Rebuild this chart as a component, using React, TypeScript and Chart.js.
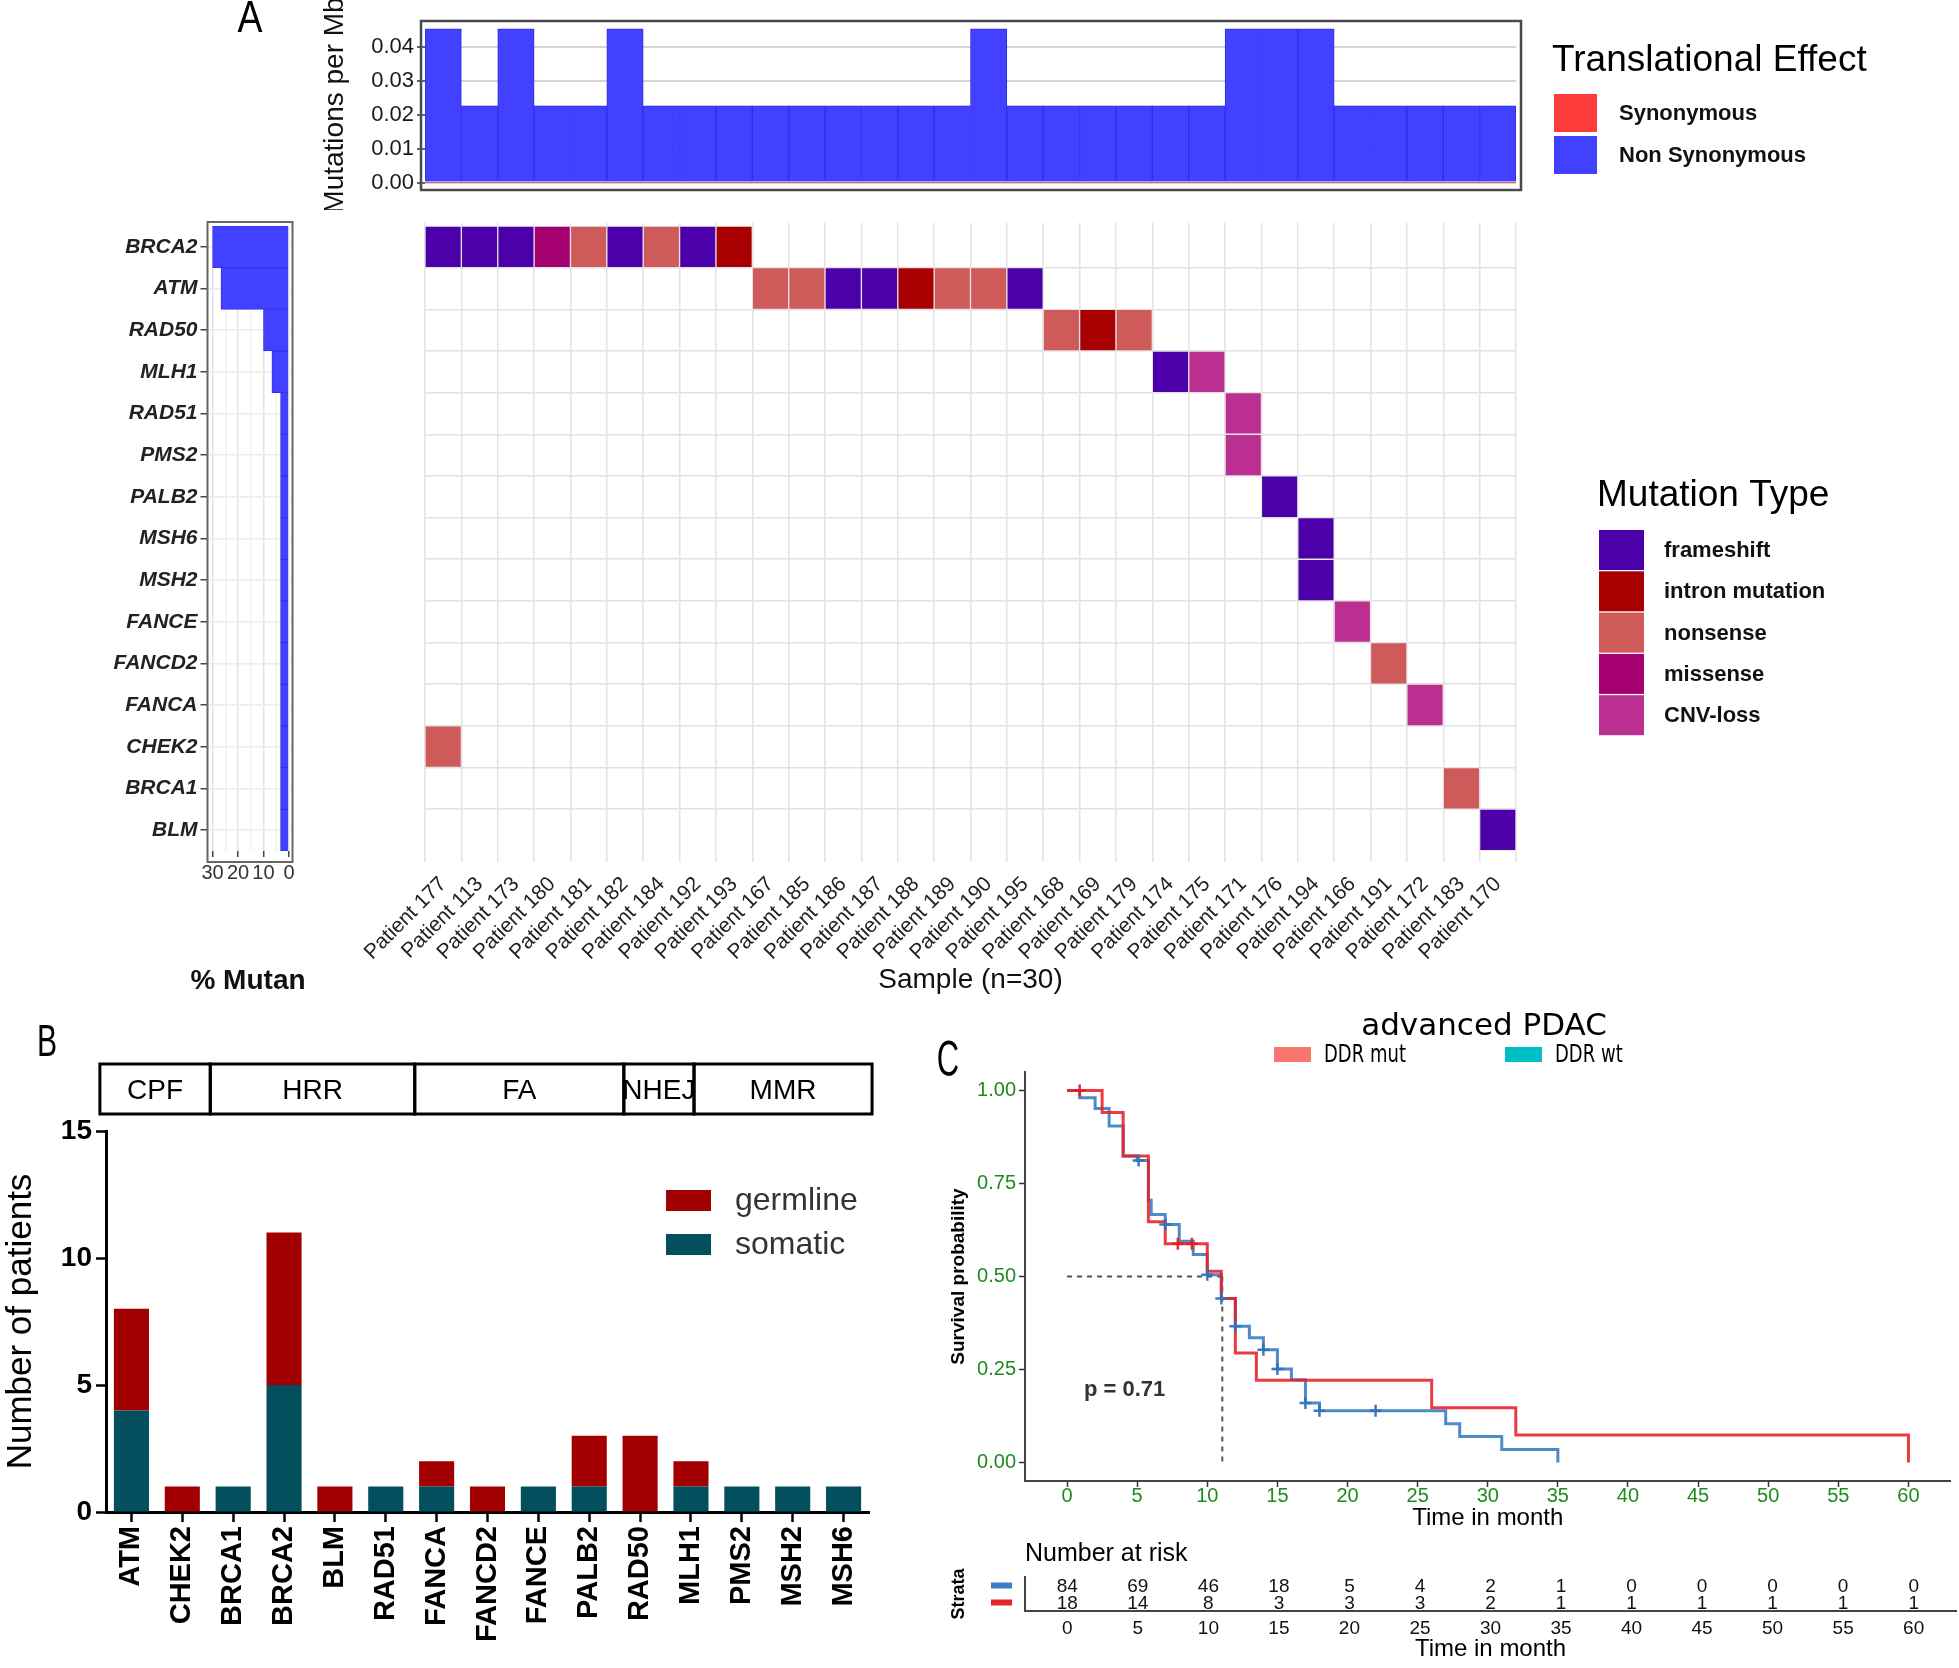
import React, { useEffect, useRef } from 'react';
import { Chart, registerables } from 'chart.js';

Chart.register(...registerables);

const SANS = '"Liberation Sans", Arial, Helvetica, sans-serif';
const DEJAVU = '"DejaVu Sans", Verdana, sans-serif';
Chart.defaults.font.family = SANS;
Chart.defaults.color = '#222';

// ---------------- Panel A data ----------------
const samples = [
  'Patient 177', 'Patient 113', 'Patient 173', 'Patient 180', 'Patient 181', 'Patient 182',
  'Patient 184', 'Patient 192', 'Patient 193', 'Patient 167', 'Patient 185', 'Patient 186',
  'Patient 187', 'Patient 188', 'Patient 189', 'Patient 190', 'Patient 195', 'Patient 168',
  'Patient 169', 'Patient 179', 'Patient 174', 'Patient 175', 'Patient 171', 'Patient 176',
  'Patient 194', 'Patient 166', 'Patient 191', 'Patient 172', 'Patient 183', 'Patient 170',
];
const nonSynonymousPerMb = [
  0.0455, 0.0227, 0.0455, 0.0227, 0.0227, 0.0455, 0.0227, 0.0227, 0.0227, 0.0227,
  0.0227, 0.0227, 0.0227, 0.0227, 0.0227, 0.0455, 0.0227, 0.0227, 0.0227, 0.0227,
  0.0227, 0.0227, 0.0455, 0.0455, 0.0455, 0.0227, 0.0227, 0.0227, 0.0227, 0.0227,
];
const synonymousPerMb = [
  0, 0, 0, 0, 0, 0, 0, 0, 0, 0, 0, 0, 0, 0, 0,
  0, 0, 0, 0, 0, 0, 0, 0, 0, 0, 0, 0, 0, 0, 0,
];
const tmbTicks = [0, 0.01, 0.02, 0.03, 0.04];

const genes = ['BRCA2', 'ATM', 'RAD50', 'MLH1', 'RAD51', 'PMS2', 'PALB2', 'MSH6', 'MSH2', 'FANCE', 'FANCD2', 'FANCA', 'CHEK2', 'BRCA1', 'BLM'];
const percentMutant = [30, 26.7, 10, 6.7, 3.3, 3.3, 3.3, 3.3, 3.3, 3.3, 3.3, 3.3, 3.3, 3.3, 3.3];
const percentTicks = [0, 5, 10, 15, 20, 25, 30];
const rowBoundaries = [1, 2, 3, 4, 5, 6, 7, 8, 9, 10, 11, 12, 13, 14];

const mutationTypes = ['frameshift', 'intron mutation', 'nonsense', 'missense', 'CNV-loss'];
const mutationColors = ['#4C00A9', '#A80000', '#CE5A5A', '#A4006F', '#BA2F8F'];
const oncoCells: [string, string, string][] = [
  ['Patient 177', 'BRCA2', 'frameshift'],
  ['Patient 113', 'BRCA2', 'frameshift'],
  ['Patient 173', 'BRCA2', 'frameshift'],
  ['Patient 180', 'BRCA2', 'missense'],
  ['Patient 181', 'BRCA2', 'nonsense'],
  ['Patient 182', 'BRCA2', 'frameshift'],
  ['Patient 184', 'BRCA2', 'nonsense'],
  ['Patient 192', 'BRCA2', 'frameshift'],
  ['Patient 193', 'BRCA2', 'intron mutation'],
  ['Patient 167', 'ATM', 'nonsense'],
  ['Patient 185', 'ATM', 'nonsense'],
  ['Patient 186', 'ATM', 'frameshift'],
  ['Patient 187', 'ATM', 'frameshift'],
  ['Patient 188', 'ATM', 'intron mutation'],
  ['Patient 189', 'ATM', 'nonsense'],
  ['Patient 190', 'ATM', 'nonsense'],
  ['Patient 195', 'ATM', 'frameshift'],
  ['Patient 168', 'RAD50', 'nonsense'],
  ['Patient 169', 'RAD50', 'intron mutation'],
  ['Patient 179', 'RAD50', 'nonsense'],
  ['Patient 174', 'MLH1', 'frameshift'],
  ['Patient 175', 'MLH1', 'CNV-loss'],
  ['Patient 171', 'RAD51', 'CNV-loss'],
  ['Patient 171', 'PMS2', 'CNV-loss'],
  ['Patient 176', 'PALB2', 'frameshift'],
  ['Patient 194', 'MSH6', 'frameshift'],
  ['Patient 194', 'MSH2', 'frameshift'],
  ['Patient 166', 'FANCE', 'CNV-loss'],
  ['Patient 191', 'FANCD2', 'nonsense'],
  ['Patient 172', 'FANCA', 'CNV-loss'],
  ['Patient 177', 'CHEK2', 'nonsense'],
  ['Patient 183', 'BRCA1', 'nonsense'],
  ['Patient 170', 'BLM', 'frameshift'],
];

// ---------------- Panel B data ----------------
const ddrGenes = ['ATM', 'CHEK2', 'BRCA1', 'BRCA2', 'BLM', 'RAD51', 'FANCA', 'FANCD2', 'FANCE', 'PALB2', 'RAD50', 'MLH1', 'PMS2', 'MSH2', 'MSH6'];
const somaticCounts = [4, 0, 1, 5, 0, 1, 1, 0, 1, 1, 0, 1, 1, 1, 1];
const germlineCounts = [4, 1, 0, 6, 1, 0, 1, 1, 0, 2, 3, 1, 0, 0, 0];
const pathwayNames = ['CPF', 'HRR', 'FA', 'NHEJ', 'MMR'];
const pathwayEdges = [-0.62, 1.55, 5.57, 9.68, 11.06, 14.56];

// ---------------- Panel C data ----------------
const mutTime = [0, 2.5, 4.0, 5.8, 7.0, 10.0, 11.0, 12.0, 13.5, 26.0, 32.0, 60.0];
const mutSurv = [1.0, 0.941, 0.824, 0.647, 0.588, 0.514, 0.441, 0.294, 0.221, 0.147, 0.074, 0.0];
const wtTime = [0, 0.9, 2.0, 3.0, 4.0, 5.0, 5.8, 6.0, 7.0, 8.0, 9.0, 10.0, 11.0, 12.0, 13.0, 14.0, 15.0, 16.0, 17.0, 18.0, 27.0, 28.0, 31.0, 35.0];
const wtSurv = [1.0, 0.981, 0.952, 0.905, 0.824, 0.812, 0.705, 0.667, 0.64, 0.595, 0.559, 0.505, 0.441, 0.366, 0.335, 0.303, 0.251, 0.222, 0.16, 0.139, 0.104, 0.07, 0.035, 0.0];
const mutCensorTime = [0.9, 7.9, 8.9];
const mutCensorSurv = [1.0, 0.588, 0.588];
const wtCensorTime = [5.1, 7.0, 10.0, 11.0, 12.0, 14.0, 15.0, 17.0, 18.0, 22.0];
const wtCensorSurv = [0.812, 0.64, 0.505, 0.441, 0.366, 0.303, 0.251, 0.16, 0.139, 0.139];
const medianTime = 11.07;
const medianSurv = 0.5;
const pValueText = 'p = 0.71';
const kmGroups = ['DDR mut', 'DDR wt'];
const kmLegendColors = ['#F8766D', '#00BFC4'];
const timeTicks = [0, 5, 10, 15, 20, 25, 30, 35, 40, 45, 50, 55, 60];
const survTicks = [0, 0.25, 0.5, 0.75, 1.0];
const riskTimes = [0, 5, 10, 15, 20, 25, 30, 35, 40, 45, 50, 55, 60];
const riskWt = [84, 69, 46, 18, 5, 4, 2, 1, 0, 0, 0, 0, 0];
const riskMut = [18, 14, 8, 3, 3, 3, 2, 1, 1, 1, 1, 1, 1];

const zip = (xs: number[], ys: number[]) => xs.map((x, i) => ({ x, y: ys[i] }));

// ---------------- plugins ----------------
const extraText = {
  id: 'extraText',
  afterDraw(chart: any, _a: any, o: any) {
    if (!o || !o.items) return;
    const ctx = chart.ctx;
    for (const it of o.items) {
      let x = it.x;
      let y = it.y;
      if (it.xv !== undefined) x = chart.scales.x.getPixelForValue(it.xv);
      if (it.yv !== undefined) y = chart.scales.y.getPixelForValue(it.yv);
      ctx.save();
      ctx.translate(x, y);
      if (it.sx) ctx.scale(it.sx, 1);
      if (it.rotation) ctx.rotate(it.rotation);
      ctx.font = it.font;
      ctx.fillStyle = it.color || '#000';
      ctx.textAlign = it.align || 'left';
      ctx.textBaseline = 'middle';
      ctx.fillText(it.text, 0, 0);
      ctx.restore();
    }
  },
};

const framePlugin = {
  id: 'frame',
  afterDraw(chart: any, _a: any, o: any) {
    if (!o || o.width === undefined) return;
    const { left, right, top, bottom } = chart.chartArea;
    const ctx = chart.ctx;
    ctx.save();
    ctx.strokeStyle = o.color;
    ctx.lineWidth = o.width;
    ctx.strokeRect(left - o.l, top - o.t, right - left + o.l + o.r, bottom - top + o.t + o.b);
    ctx.restore();
  },
};

const boxLegend = {
  id: 'boxLegend',
  afterDraw(chart: any, _a: any, o: any) {
    if (!o || o.x === undefined) return;
    const ctx = chart.ctx;
    let items: { label: string; color: string }[] = o.fromDatasets
      ? chart.data.datasets.map((d: any) => ({ label: d.label, color: d.backgroundColor }))
      : o.labels.map((l: string, i: number) => ({ label: l, color: o.colors[i] }));
    if (o.reverse) items = items.slice().reverse();
    ctx.save();
    ctx.textAlign = 'left';
    ctx.textBaseline = 'middle';
    if (o.title) {
      ctx.font = o.titleFont;
      ctx.fillStyle = '#000';
      ctx.fillText(o.title, o.titleX, o.titleY);
    }
    items.forEach((it, i) => {
      const bx = o.horizontal ? o.x + i * o.step : o.x;
      const by = o.horizontal ? o.y : o.y + i * o.step;
      ctx.fillStyle = it.color;
      ctx.fillRect(bx, by, o.boxW, o.boxH);
      ctx.save();
      ctx.translate(bx + o.boxW + o.gap, by + o.boxH / 2 + 1);
      if (o.textSx) ctx.scale(o.textSx, 1);
      ctx.font = o.font;
      ctx.fillStyle = o.textColor || '#000';
      ctx.fillText(it.label, 0, 0);
      ctx.restore();
    });
    ctx.restore();
  },
};

const pathwayBoxes = {
  id: 'pathways',
  afterDraw(chart: any, _a: any, o: any) {
    if (!o || !o.names) return;
    const ctx = chart.ctx;
    const xs = chart.scales.x;
    ctx.save();
    ctx.lineWidth = o.lineWidth;
    ctx.strokeStyle = '#000';
    ctx.fillStyle = '#000';
    ctx.font = o.font;
    ctx.textAlign = 'center';
    ctx.textBaseline = 'middle';
    for (let i = 0; i < o.names.length; i++) {
      const x0 = xs.getPixelForValue(o.edges[i]);
      const x1 = xs.getPixelForValue(o.edges[i + 1]);
      ctx.strokeRect(x0, o.top, x1 - x0, o.height);
      ctx.fillText(o.names[i], (x0 + x1) / 2, o.top + o.height / 2 + 2);
    }
    ctx.restore();
  },
};

const riskText = {
  id: 'riskText',
  afterDraw(chart: any, _a: any, o: any) {
    if (!o || !o.font) return;
    const ctx = chart.ctx;
    const xs = chart.scales.x;
    const ys = chart.scales.y;
    ctx.save();
    ctx.textAlign = 'center';
    ctx.textBaseline = 'middle';
    chart.data.datasets.forEach((ds: any) => {
      ctx.font = o.font;
      ctx.fillStyle = o.color;
      ds.data.forEach((p: any) => {
        ctx.fillText(String(p.n), xs.getPixelForValue(p.x), ys.getPixelForValue(p.y) + 1);
      });
      const y = ys.getPixelForValue(ds.data[0].y);
      ctx.fillStyle = ds.borderColor;
      ctx.fillRect(o.dashX, y - o.dashH / 2, o.dashW, o.dashH);
    });
    ctx.restore();
  },
};

const base = { responsive: false, animation: false as const };
const noLegend = { legend: { display: false }, tooltip: { enabled: false } };

// ---------------- chart configs ----------------
const makeTmb = () => ({
  type: 'bar',
  data: {
    labels: samples,
    datasets: [
      { label: 'Synonymous', data: synonymousPerMb, backgroundColor: '#FF3C3C', barPercentage: 1, categoryPercentage: 1 },
      { label: 'Non Synonymous', data: nonSynonymousPerMb, backgroundColor: '#4141FF', borderColor: '#2E2EEA', borderWidth: 1, barPercentage: 1, categoryPercentage: 1 },
    ],
  },
  options: {
    ...base,
    layout: { padding: { left: 80, right: 443, top: 21, bottom: 20 } },
    scales: {
      x: { stacked: true, display: false },
      y: {
        stacked: true, min: -0.0022, max: 0.0478,
        afterBuildTicks: (s: any) => { s.ticks = tmbTicks.map((v) => ({ value: v })); },
        afterFit: (s: any) => { s.width = 125; },
        ticks: { callback: (v: any) => Number(v).toFixed(2), font: { size: 22 }, color: '#1a1a1a', padding: 3 },
        grid: { color: '#d4d4d4', lineWidth: 2, tickColor: '#333', tickLength: 8, tickWidth: 1.5 },
        border: { display: false },
        title: { display: true, text: 'Mutations per Mb', font: { size: 28 }, color: '#111', padding: { top: 18, bottom: 0 } },
      },
    },
    plugins: {
      ...noLegend,
      frame: { l: 4, r: 5, t: 0, b: 0, color: '#4a4a4a', width: 2.5 },
      boxLegend: {
        fromDatasets: true, title: 'Translational Effect', titleFont: `37px ${SANS}`, titleX: 1332, titleY: 61,
        x: 1334, y: 94, step: 42, boxW: 43, boxH: 38, gap: 22, font: `bold 22px ${SANS}`, textColor: '#111',
      },
      extraText: { items: [{ text: 'A', x: 30, y: 20, font: `44px ${SANS}`, align: 'center', sx: 0.85 }] },
    },
  },
  plugins: [framePlugin, boxLegend, extraText],
});

const makePct = () => ({
  type: 'bar',
  data: {
    labels: genes,
    datasets: [{ label: '% Mutant', data: percentMutant, backgroundColor: '#4141FF', borderColor: '#3333EE', borderWidth: 1, barPercentage: 1, categoryPercentage: 1 }],
  },
  options: {
    ...base,
    indexAxis: 'y',
    layout: { padding: { left: 0, right: 17.5, top: 26, bottom: 0 } },
    scales: {
      x: {
        min: -1.4, max: 32, reverse: true,
        afterBuildTicks: (s: any) => { s.ticks = percentTicks.map((v) => ({ value: v })); },
        ticks: { callback: (v: any) => (v % 10 === 0 ? String(v) : ''), font: { size: 20 }, color: '#333', padding: 4, maxRotation: 0, autoSkip: false },
        grid: {
          color: (c: any) => (c.tick && c.tick.value % 10 === 0 ? '#e2e2e2' : '#f1f1f1'),
          lineWidth: 1.5,
          tickColor: (c: any) => (c.tick && c.tick.value % 10 === 0 ? '#444' : 'rgba(0,0,0,0)'),
          tickLength: 6,
        },
        border: { display: false },
        afterFit: (s: any) => { s.height = 149; },
      },
      y: {
        afterFit: (s: any) => { s.width = 127.5; },
        ticks: { font: { size: 21, style: 'italic', weight: 'bold' }, color: '#222', padding: 3, autoSkip: false },
        grid: { offset: false, color: '#ececec', lineWidth: 1.5, tickColor: '#444', tickLength: 7 },
        border: { display: false },
      },
    },
    plugins: {
      ...noLegend,
      frame: { l: 0, r: 0, t: 4, b: 11, color: '#666', width: 2 },
      extraText: { items: [{ text: '% Mutan', x: 168, y: 781, font: `bold 28px ${SANS}`, align: 'center', color: '#111' }] },
    },
  },
  plugins: [framePlugin, extraText],
});

const makeOnco = () => ({
  type: 'bar',
  data: {
    labels: samples,
    datasets: [{
      label: 'Mutation Type',
      data: oncoCells.map(([s, g, t]) => ({ x: s, y: [genes.indexOf(g), genes.indexOf(g) + 1], t })),
      backgroundColor: (c: any) => mutationColors[mutationTypes.indexOf(c.raw && c.raw.t)] || '#999',
      borderColor: 'rgba(230,225,235,0.6)',
      borderWidth: 1,
      borderSkipped: false,
      barPercentage: 1,
      categoryPercentage: 1,
    }],
  },
  options: {
    ...base,
    layout: { padding: { left: 115, right: 443, top: 22.7, bottom: 0 } },
    scales: {
      x: {
        offset: true,
        grid: { offset: true, color: '#e2e2e2', lineWidth: 1.5, drawTicks: false },
        border: { display: false },
        ticks: { autoSkip: false, minRotation: 45, maxRotation: 45, font: { size: 21 }, color: '#222', padding: 10 },
        afterFit: (s: any) => { s.height = 138; },
        title: { display: true, text: 'Sample (n=30)', font: { size: 28 }, color: '#111', padding: { top: 0, bottom: 3.2 } },
      },
      y: {
        min: -0.08, max: 15.27, reverse: true,
        afterBuildTicks: (s: any) => { s.ticks = rowBoundaries.map((v) => ({ value: v })); },
        afterFit: (s: any) => { s.width = 0; },
        ticks: { display: false },
        grid: { color: '#e2e2e2', lineWidth: 1.5, drawTicks: false },
        border: { display: false },
      },
    },
    plugins: {
      ...noLegend,
      boxLegend: {
        labels: mutationTypes, colors: mutationColors, title: 'Mutation Type', titleFont: `37px ${SANS}`, titleX: 1287, titleY: 296,
        x: 1289, y: 330, step: 41.3, boxW: 45, boxH: 40, gap: 20, font: `bold 22px ${SANS}`, textColor: '#111',
      },
    },
  },
  plugins: [boxLegend],
});

const makeB = () => ({
  type: 'bar',
  data: {
    labels: ddrGenes,
    datasets: [
      { label: 'somatic', data: somaticCounts, backgroundColor: '#034F5E', barPercentage: 0.69, categoryPercentage: 1 },
      { label: 'germline', data: germlineCounts, backgroundColor: '#A20000', barPercentage: 0.69, categoryPercentage: 1 },
    ],
  },
  options: {
    ...base,
    layout: { padding: { left: 0, right: 31, top: 111, bottom: 0 } },
    scales: {
      x: {
        stacked: true,
        grid: { offset: false, drawOnChartArea: false, tickLength: 10, tickWidth: 2.5, tickColor: '#000' },
        border: { color: '#000', width: 3 },
        ticks: { autoSkip: false, minRotation: 90, maxRotation: 90, font: { size: 29, weight: 'bold' }, color: '#000', padding: 4 },
        afterFit: (s: any) => { s.height = 156; },
      },
      y: {
        stacked: true, min: 0, max: 15,
        ticks: { stepSize: 5, font: { size: 28, weight: 'bold' }, color: '#000', padding: 4 },
        grid: { drawOnChartArea: false, tickLength: 10, tickWidth: 2.5, tickColor: '#000' },
        border: { color: '#000', width: 3 },
        afterFit: (s: any) => { s.width = 106; },
        title: { display: true, text: 'Number of patients', font: { size: 35 }, color: '#000', padding: { top: 0, bottom: 0 } },
      },
    },
    plugins: {
      ...noLegend,
      pathways: { names: pathwayNames, edges: pathwayEdges, top: 44, height: 50, lineWidth: 3, font: `28px ${SANS}` },
      boxLegend: { fromDatasets: true, reverse: true, x: 666, y: 170, step: 44, boxW: 45, boxH: 21, gap: 24, font: `32px ${SANS}`, textColor: '#333' },
      extraText: { items: [{ text: 'B', x: 47, y: 24, font: `45px ${SANS}`, align: 'center', sx: 0.67 }] },
    },
  },
  plugins: [pathwayBoxes, boxLegend, extraText],
});

const makeKm = () => ({
  type: 'line',
  data: {
    datasets: [
      { label: 'DDR mut censored', data: zip(mutCensorTime, mutCensorSurv), showLine: false, pointStyle: 'cross', pointRadius: 6, pointBorderWidth: 2.5, borderColor: 'rgba(228,30,36,0.95)', order: 0 },
      { label: 'DDR wt censored', data: zip(wtCensorTime, wtCensorSurv), showLine: false, pointStyle: 'cross', pointRadius: 6, pointBorderWidth: 2.5, borderColor: 'rgba(48,116,186,0.95)', order: 0 },
      { label: 'DDR mut', data: zip(mutTime, mutSurv), stepped: true, borderColor: 'rgba(232,32,38,0.88)', borderWidth: 3, pointRadius: 0, order: 1 },
      { label: 'DDR wt', data: zip(wtTime, wtSurv), stepped: true, borderColor: 'rgba(52,122,192,0.88)', borderWidth: 3, pointRadius: 0, order: 2 },
      { label: 'median', data: [{ x: 0, y: medianSurv }, { x: medianTime, y: medianSurv }], borderColor: '#555', borderDash: [5, 5], borderWidth: 2, pointRadius: 0, order: 3 },
      { label: 'median time', data: [{ x: medianTime, y: medianSurv }, { x: medianTime, y: 0 }], borderColor: '#555', borderDash: [5, 5], borderWidth: 2, pointRadius: 0, order: 3 },
    ],
  },
  options: {
    ...base,
    layout: { padding: { left: 0, right: 3, top: 72, bottom: 0 } },
    scales: {
      x: {
        type: 'linear', min: -3, max: 63,
        afterBuildTicks: (s: any) => { s.ticks = timeTicks.map((v) => ({ value: v })); },
        ticks: { font: { size: 20, lineHeight: 0.9 }, color: '#1F8A1F', padding: 0, maxRotation: 0, autoSkip: false },
        grid: { drawOnChartArea: false, tickLength: 6, tickWidth: 1.5, tickColor: '#333' },
        border: { color: '#444', width: 2 },
        afterFit: (s: any) => { s.height = 49; },
        title: { display: true, text: 'Time in month', font: { size: 24, lineHeight: 1.0 }, color: '#000', padding: { top: 0, bottom: 0 } },
      },
      y: {
        min: -0.05, max: 1.05,
        afterBuildTicks: (s: any) => { s.ticks = survTicks.map((v) => ({ value: v })); },
        ticks: { callback: (v: any) => Number(v).toFixed(2), font: { size: 20 }, color: '#1F8A1F', padding: 3 },
        grid: { drawOnChartArea: false, tickLength: 6, tickWidth: 1.5, tickColor: '#333' },
        border: { color: '#444', width: 2 },
        afterFit: (s: any) => { s.width = 95; },
        title: { display: true, text: 'Survival probability', font: { size: 19, weight: 'bold' }, color: '#000', padding: { top: 17.6, bottom: 0 } },
      },
    },
    plugins: {
      ...noLegend,
      boxLegend: { labels: kmGroups, colors: kmLegendColors, horizontal: true, x: 344, y: 47, step: 231, boxW: 37, boxH: 15, gap: 13, font: `25px ${DEJAVU}`, textSx: 0.72, textColor: '#000' },
      extraText: {
        items: [
          { text: 'advanced PDAC', x: 554, y: 27, font: `31px ${DEJAVU}`, align: 'center' },
          { text: 'C', x: 18, y: 62, font: `50px ${SANS}`, align: 'center', sx: 0.62 },
          { text: pValueText, xv: 1.2, yv: 0.195, font: `bold 22px ${SANS}`, color: '#333' },
        ],
      },
    },
  },
  plugins: [boxLegend, extraText],
});

const makeRisk = () => ({
  type: 'scatter',
  data: {
    datasets: [
      { label: 'DDR wt', data: riskTimes.map((t, i) => ({ x: t, y: 1, n: riskWt[i] })), pointRadius: 0, borderColor: '#3B7FC4', backgroundColor: '#3B7FC4' },
      { label: 'DDR mut', data: riskTimes.map((t, i) => ({ x: t, y: 0, n: riskMut[i] })), pointRadius: 0, borderColor: '#E3242B', backgroundColor: '#E3242B' },
    ],
  },
  options: {
    ...base,
    layout: { padding: { left: 0, right: 3, top: 47, bottom: 0 } },
    scales: {
      x: {
        type: 'linear', min: -3, max: 63,
        afterBuildTicks: (s: any) => { s.ticks = timeTicks.map((v) => ({ value: v })); },
        ticks: { font: { size: 19 }, color: '#111', padding: 6, maxRotation: 0, autoSkip: false },
        grid: { display: false, drawTicks: false },
        border: { display: true, color: '#444', width: 2 },
        afterFit: (s: any) => { s.height = 57; },
        title: { display: true, text: 'Time in month', font: { size: 24, lineHeight: 1.1 }, color: '#000', padding: { top: 0, bottom: 5 } },
      },
      y: {
        min: -0.5, max: 1.5,
        afterBuildTicks: (s: any) => { s.ticks = [{ value: 0 }, { value: 1 }]; },
        ticks: { display: false },
        grid: { display: false, drawTicks: false },
        border: { display: true, color: '#444', width: 2 },
        afterFit: (s: any) => { s.width = 95; },
        title: { display: true, text: 'Strata', font: { size: 18, weight: 'bold' }, color: '#000', padding: { top: 18, bottom: 0 } },
      },
    },
    plugins: {
      ...noLegend,
      riskText: { font: `19px ${SANS}`, color: '#111', dashX: 61, dashW: 21, dashH: 6 },
      extraText: { items: [{ text: 'Number at risk', x: 95, y: 24, font: `25px ${SANS}` }] },
    },
  },
  plugins: [riskText, extraText],
});

function ChartCanvas({ left, top, width, height, make }: { left: number; top: number; width: number; height: number; make: () => any }) {
  const ref = useRef<HTMLCanvasElement | null>(null);
  useEffect(() => {
    if (!ref.current) return;
    const chart = new Chart(ref.current, make());
    return () => chart.destroy();
  }, []);
  return (
    <div style={{ position: 'absolute', left, top, width, height }}>
      <canvas ref={ref} width={width} height={height} style={{ display: 'block', width, height }} />
    </div>
  );
}

export default function App() {
  return (
    <div style={{ position: 'absolute', left: 0, top: 0, width: 1959, height: 1668, background: '#fff', overflow: 'hidden' }}>
      <ChartCanvas left={220} top={0} width={1739} height={210} make={makeTmb} />
      <ChartCanvas left={80} top={200} width={230} height={800} make={makePct} />
      <ChartCanvas left={310} top={200} width={1649} height={800} make={makeOnco} />
      <ChartCanvas left={0} top={1020} width={900} height={648} make={makeB} />
      <ChartCanvas left={930} top={1000} width={1029} height={530} make={makeKm} />
      <ChartCanvas left={930} top={1530} width={1029} height={138} make={makeRisk} />
    </div>
  );
}
